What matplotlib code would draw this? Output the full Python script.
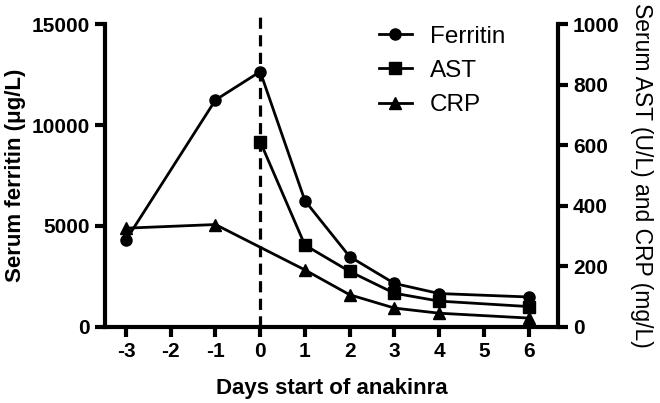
import matplotlib
matplotlib.use('Agg')
import matplotlib.pyplot as plt

# ======================
# DATA
# ======================
ferritin_days = [-3, -1, 0, 1, 2, 3, 4, 6]
ferritin = [4300, 11240, 12650, 6250, 3480, 2150, 1650, 1480]

ast_days = [0, 1, 2, 3, 4, 6]
ast = [612, 270, 183, 111, 85, 67]

crp_days = [-3, -1, 1, 2, 3, 4, 6]
crp = [326, 338, 188, 106, 62, 45, 29]

x_ticks = [-3, -2, -1, 0, 1, 2, 3, 4, 5, 6]

# ======================
# STYLE
# ======================
plt.rcParams['font.family'] = ['Liberation Sans', 'DejaVu Sans']
plt.rcParams['font.size'] = 15

fig = plt.figure(figsize=(6.6, 4.03), dpi=100)
ax = fig.add_axes([0.159, 0.189, 0.686, 0.751])
ax2 = ax.twinx()

lw = 2
ms = 8
h1, = ax.plot(ferritin_days, ferritin, color='black', lw=lw, marker='o', ms=ms, label='Ferritin', clip_on=False, zorder=3)
h2, = ax2.plot(ast_days, ast, color='black', lw=lw, marker='s', ms=ms, label='AST', clip_on=False, zorder=3)
h3, = ax2.plot(crp_days, crp, color='black', lw=lw, marker='^', ms=ms + 0.5, label='CRP', clip_on=False, zorder=3)

# day 0 marker
ax.plot([0, 0], [0, 15550], color='black', lw=2.3, ls=(0, (3.5, 2)), clip_on=False, zorder=2)

ax.set_xlim(-3.47, 6.65)
ax.set_ylim(0, 15000)
ax2.set_ylim(0, 1000)
ax.set_xticks(x_ticks)
ax.set_xticklabels([str(t) for t in x_ticks])
ax.set_yticks([0, 5000, 10000, 15000])
ax2.set_yticks([0, 200, 400, 600, 800, 1000])

for a in (ax, ax2):
    a.spines['top'].set_visible(False)
    for s in a.spines.values():
        s.set_linewidth(3)
    a.tick_params(width=3, length=7, labelsize=15, pad=4)
    for lab in a.get_xticklabels() + a.get_yticklabels():
        lab.set_fontweight('bold')
ax.spines['right'].set_visible(False)
ax2.spines['left'].set_visible(False)
ax2.spines['bottom'].set_visible(False)

ax.set_xlabel('Days start of anakinra', fontweight='bold', fontsize=16, labelpad=12)
ax.set_ylabel('Serum ferritin (\u03bcg/L)', fontweight='bold', fontsize=16, labelpad=4)
ax2.set_ylabel('Serum AST (U/L) and CRP (mg/L)', fontsize=16.5, rotation=270, labelpad=24)

ax.legend(handles=[h1, h2, h3], loc='upper left', bbox_to_anchor=(0.605, 0.995),
          frameon=False, fontsize=17.5, handlelength=1.35, handletextpad=0.75,
          labelspacing=0.5, borderaxespad=0, borderpad=0)

plt.savefig('out.png', dpi=100)
